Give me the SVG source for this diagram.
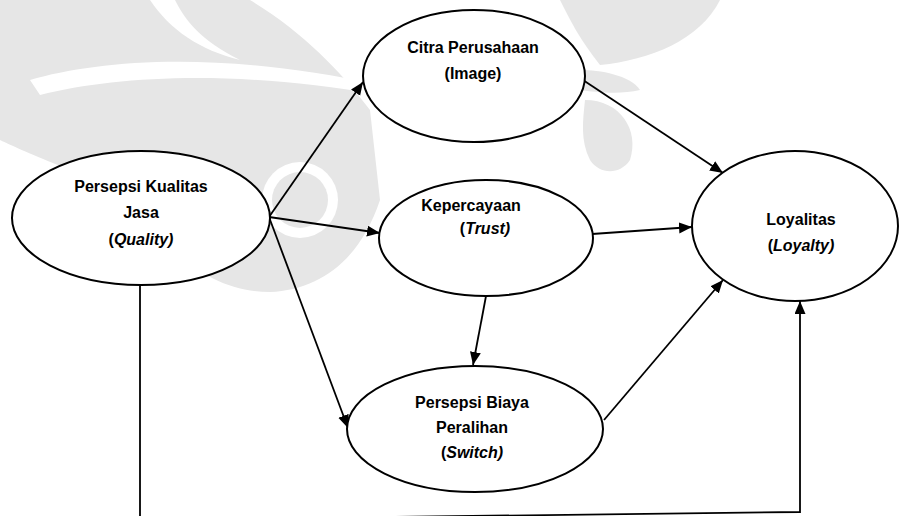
<svg xmlns="http://www.w3.org/2000/svg" width="899" height="516" viewBox="0 0 899 516">
<style>
.node ellipse{fill:#fff;stroke:#000;stroke-width:2}
.t{font-family:"Liberation Sans",Arial,sans-serif;font-size:16px;font-weight:bold;fill:#000;text-anchor:middle}
.i{font-style:italic}
.c{fill:none;stroke:#000;stroke-width:1.8}
.wm{fill:#e6e6e6;stroke:none}
.wh{fill:#fff;stroke:none}
</style>
<defs>
<marker id="ah" markerUnits="userSpaceOnUse" markerWidth="14" markerHeight="12" refX="13" refY="5.5" orient="auto">
<path d="M0,0 L13,5.5 L0,11 Z" fill="#000"/>
</marker>
</defs>
<rect width="899" height="516" fill="#fff"/>
<g id="watermark">
<path class="wm" d="M0,0 L250,0 C300,30 340,70 370,110 L380,200 C360,260 320,290 270,292 C210,292 160,250 150,200 C40,160 0,140 0,140 Z"/>
<path class="wh" d="M30,80 C100,60 220,50 380,85 L380,95 C240,70 120,75 40,95 Z"/>
<circle class="wh" cx="300" cy="200" r="38"/>
<circle class="wm" cx="300" cy="200" r="28"/>
<path class="wh" d="M150,0 C170,30 200,50 240,60 C200,40 185,20 175,0 Z"/>
<path class="wm" d="M560,0 L720,0 C700,40 650,60 600,65 C580,40 570,20 560,0 Z"/>
<path class="wm" d="M585,100 C620,100 640,130 630,160 C620,175 600,175 590,160 C580,140 583,120 585,100 Z"/>
<path class="wm" d="M580,70 C600,70 630,75 640,90 C620,95 595,92 580,90 Z"/>
</g>
<g id="connectors">
<line class="c" x1="269" y1="217" x2="363" y2="82" marker-end="url(#ah)"/>
<line class="c" x1="269" y1="217" x2="380" y2="233" marker-end="url(#ah)"/>
<line class="c" x1="269" y1="217" x2="348" y2="428" marker-end="url(#ah)"/>
<line class="c" x1="583" y1="80" x2="723" y2="173" marker-end="url(#ah)"/>
<line class="c" x1="592" y1="234" x2="692" y2="227" marker-end="url(#ah)"/>
<line class="c" x1="604" y1="420" x2="723" y2="280" marker-end="url(#ah)"/>
<line class="c" x1="486" y1="296" x2="473" y2="365" marker-end="url(#ah)"/>
<path class="c" d="M140,285 L140,520 L800,512 L800,301" marker-end="url(#ah)"/>
</g>
<g id="quality" class="node">
<ellipse cx="141" cy="218" rx="129" ry="67"/>
<text class="t" x="141" y="192">Persepsi Kualitas</text>
<text class="t" x="141" y="218">Jasa</text>
<text class="t" x="141" y="245">(<tspan class="i">Quality)</tspan></text>
</g>
<g id="image" class="node">
<ellipse cx="474" cy="76" rx="111" ry="66"/>
<text class="t" x="473" y="53">Citra Perusahaan</text>
<text class="t" x="473" y="79">(Image)</text>
</g>
<g id="trust" class="node">
<ellipse cx="486" cy="238" rx="107" ry="58"/>
<text class="t" x="471" y="211">Kepercayaan</text>
<text class="t" x="485" y="234">(<tspan class="i">Trust)</tspan></text>
</g>
<g id="switch" class="node">
<ellipse cx="475" cy="429" rx="128" ry="63"/>
<text class="t" x="472" y="408">Persepsi Biaya</text>
<text class="t" x="472" y="433">Peralihan</text>
<text class="t" x="472" y="458">(<tspan class="i">Switch)</tspan></text>
</g>
<g id="loyalty" class="node">
<ellipse cx="795" cy="226" rx="103" ry="75"/>
<text class="t" x="801" y="225">Loyalitas</text>
<text class="t" x="801" y="251">(<tspan class="i">Loyalty)</tspan></text>
</g>
</svg>
